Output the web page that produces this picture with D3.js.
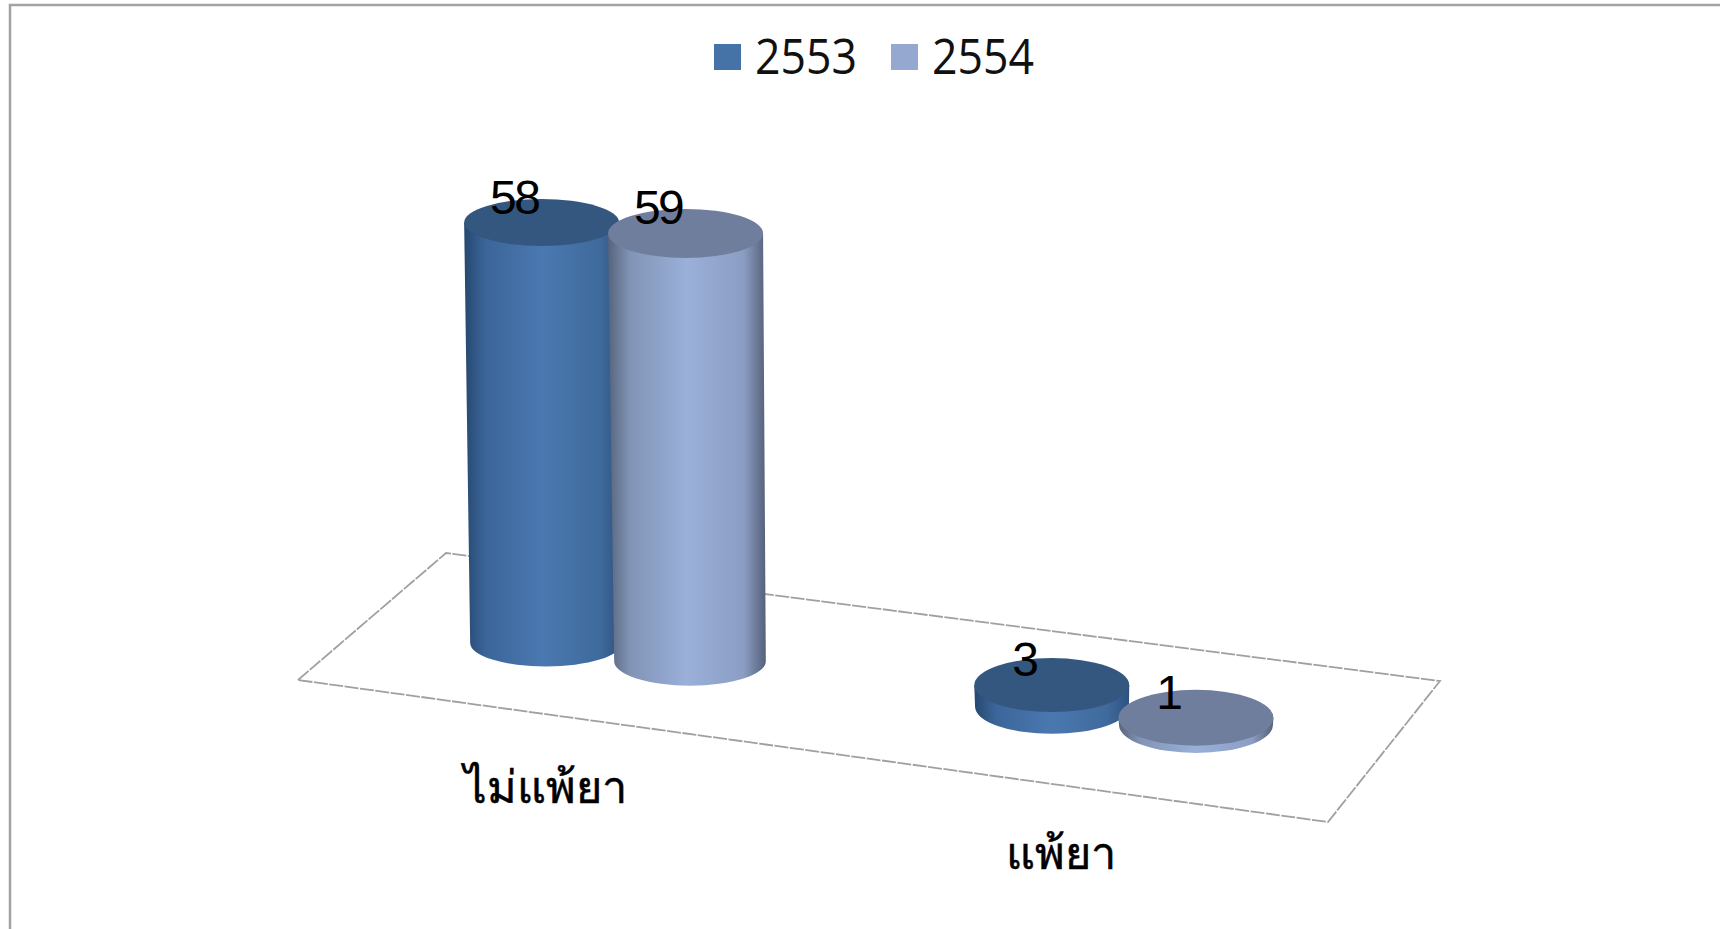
<!DOCTYPE html>
<html>
<head>
<meta charset="utf-8">
<script src="https://cdn.jsdelivr.net/npm/d3@7"></script>
<style>
  html, body { margin: 0; padding: 0; background: #fff; overflow: hidden; }
  svg { display: block; }
  .value-label { font-family: "Liberation Sans", Arial, sans-serif; font-size: 48px; letter-spacing: -2.5px; fill: #000; text-anchor: middle; }
  .legend-label { font-family: "Open Sans", "Noto Sans", sans-serif; font-size: 50px; fill: #111; }
  .cat-label { font-family: "Noto Sans", "DejaVu Sans", sans-serif; font-size: 45px; fill: #000; stroke: #000; stroke-width: 0.5px; text-anchor: middle; }
</style>
</head>
<body>
<svg id="chart" width="1720" height="929"></svg>
<script>
const categories = ['ไม่แพ้ยา', 'แพ้ยา'];
const years = ['2553', '2554'];
const values2553 = [58, 3];
const values2554 = [59, 1];
const floorCorners = [[298, 680], [446, 553], [1440, 681], [1328, 822]];

const svg = d3.select('#chart');
const W = 1720, H = 929;

const colors = {
  2553: { legend: '#4572a7', top: '#34577f', stops: ['#264870', '#3c669a', '#4a78b0', '#3f6a9c', '#2e5180'] },
  2554: { legend: '#95a9d0', top: '#6f7e9c', stops: ['#56647c', '#8294b6', '#9ab0d9', '#8b9dc3', '#55617a'] }
};

// Scales
const x0 = d3.scalePoint().domain(categories).range([546, 1052]);
const x1 = d3.scalePoint().domain(years).range([0, 144]);
const heightScale = d3.scaleLinear().domain([0, 1]).range([0, 7.25]);
const floorY = d3.scaleLinear().domain([546, 1196]).range([643, 725]);
const ryScale = d3.scaleLinear().domain([546, 1196]).range([23.5, 28]);
const catLabelX = d3.scalePoint().domain(categories).range([545, 1061]);
const catLabelY = d3.scalePoint().domain(categories).range([803, 869]);

// Build one record per cylinder, back series first so 2554 sits over 2553
const cylinders = [];
categories.forEach((c, i) => {
  [values2553[i], values2554[i]].forEach((v, j) => {
    cylinders.push({ category: c, year: years[j], value: v });
  });
});

// Side gradients
const defs = svg.append('defs');
years.forEach(y => {
  const grad = defs.append('linearGradient')
    .attr('id', `side-${y}`)
    .attr('x1', 0).attr('x2', 1).attr('y1', 0).attr('y2', 0);
  [0, 0.14, 0.5, 0.86, 1].forEach((o, i) => {
    grad.append('stop').attr('offset', o).attr('stop-color', colors[y].stops[i]);
  });
});

// Chart frame: only the left and top edges show
svg.append('path')
  .attr('d', `M10,${H}V5H${W}`)
  .attr('fill', 'none')
  .attr('stroke', '#a3a3a3')
  .attr('stroke-width', 2.5);

// Floor
svg.append('path')
  .attr('d', d3.line().curve(d3.curveLinearClosed)(floorCorners))
  .attr('fill', 'none')
  .attr('stroke', '#a0a0a0')
  .attr('stroke-width', 1.8)
  .attr('stroke-dasharray', '14 1.5');

// Cylinders
const cyl = svg.selectAll('g.cylinder')
  .data(cylinders)
  .join('g')
  .attr('class', 'cylinder');

cyl.each(function(d) {
  const g = d3.select(this);
  const baseX = x0(d.category) + x1(d.year);
  const baseY = floorY(baseX);
  const topX = baseX - d.value * 0.075;
  const topY = baseY - heightScale(d.value);
  const ry = ryScale(baseX);
  const rxTop = 77.5;
  const rxBase = 77 - d.value * 0.02;

  g.append('path')
    .attr('d', `M${topX - rxTop},${topY}L${baseX - rxBase},${baseY}`
      + `A${rxBase},${ry} 0 0 0 ${baseX + rxBase},${baseY}`
      + `L${topX + rxTop},${topY}Z`)
    .attr('fill', `url(#side-${d.year})`);

  g.append('ellipse')
    .attr('cx', topX)
    .attr('cy', topY)
    .attr('rx', rxTop)
    .attr('ry', ry)
    .attr('fill', colors[d.year].top);

  g.append('text')
    .attr('class', 'value-label')
    .attr('x', topX - 27.5)
    .attr('y', topY - 9)
    .text(d.value);
});

// Category labels
svg.selectAll('text.cat-label')
  .data(categories)
  .join('text')
  .attr('class', 'cat-label')
  .attr('x', d => catLabelX(d))
  .attr('y', d => catLabelY(d))
  .text(d => d);

// Legend
const legendX = d3.scalePoint().domain(years).range([714, 891]);
const legend = svg.selectAll('g.legend')
  .data(years)
  .join('g')
  .attr('class', 'legend')
  .attr('transform', d => `translate(${legendX(d)},44)`);

legend.append('rect')
  .attr('width', 27)
  .attr('height', 26)
  .attr('fill', d => colors[d].legend);

legend.append('text')
  .attr('class', 'legend-label')
  .attr('x', 41)
  .attr('y', 30)
  .attr('textLength', 102)
  .attr('lengthAdjust', 'spacingAndGlyphs')
  .text(d => d);
</script>
</body>
</html>
